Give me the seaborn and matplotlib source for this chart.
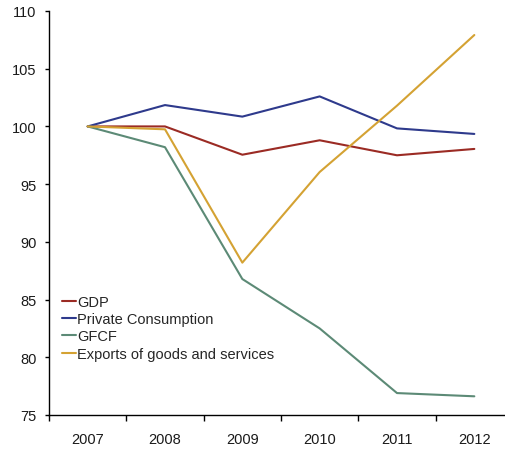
import matplotlib
matplotlib.use("Agg")
import matplotlib.pyplot as plt
import seaborn as sns
import pandas as pd
import numpy as np
from matplotlib.ticker import FixedLocator, NullFormatter, FixedFormatter

years = ["2007", "2008", "2009", "2010", "2011", "2012"]
gdp = [100.0, 100.0, 97.55, 98.8, 97.5, 98.05]
private_consumption = [100.0, 101.85, 100.85, 102.6, 99.83, 99.35]
gfcf = [100.0, 98.2, 86.78, 82.5, 76.9, 76.62]
exports = [100.0, 99.75, 88.2, 96.05, 101.8, 107.92]

series_names = ["GDP", "Private Consumption", "GFCF", "Exports of goods and services"]
series_values = [gdp, private_consumption, gfcf, exports]
colors = ["#9B2B24", "#2E3A8C", "#5C8A76", "#D4A233"]

rows = []
for name, vals in zip(series_names, series_values):
    for i, v in enumerate(vals):
        rows.append({"pos": i, "year": years[i], "value": v, "series": name})
df = pd.DataFrame(rows)

sns.set_style("white")
plt.rcParams["font.family"] = ["Liberation Sans", "DejaVu Sans"]

fig = plt.figure(figsize=(5.05, 4.52), dpi=100)
ax = fig.add_axes([49 / 505, 36 / 452, 464 / 505, 404 / 452])

sns.lineplot(data=df, x="pos", y="value", hue="series", hue_order=series_names,
             palette=colors, linewidth=1.5, ax=ax, sort=False)

ax.set_xlim(-0.5, 5.5)
ax.set_ylim(75, 110)
ax.set_yticks(np.arange(75, 111, 5))
ax.set_xlabel("")
ax.set_ylabel("")

# Year labels centred on categories, tick marks on the boundaries
ax.xaxis.set_major_locator(FixedLocator(np.arange(-0.5, 6.0, 1.0)))
ax.xaxis.set_major_formatter(NullFormatter())
ax.xaxis.set_minor_locator(FixedLocator(np.arange(0, 6)))
ax.xaxis.set_minor_formatter(FixedFormatter(years))
ax.tick_params(axis="x", which="major", direction="out", length=4, width=1, color="black", bottom=True)
ax.tick_params(axis="x", which="minor", length=0, pad=12, labelsize=10.5, labelcolor="#1a1a1a")
ax.tick_params(axis="y", direction="out", length=3, width=1, color="black", pad=6,
               labelsize=10.5, labelcolor="#1a1a1a", left=True)

for side in ["top", "right"]:
    ax.spines[side].set_visible(False)
for side in ["left", "bottom"]:
    ax.spines[side].set_color("black")
    ax.spines[side].set_linewidth(1)

leg = ax.legend(loc="lower left", bbox_to_anchor=(0.015, 0.12), frameon=False,
                fontsize=10.5, handlelength=1.0, handletextpad=0.05,
                labelspacing=0.22, borderaxespad=0)
for line in leg.get_lines():
    line.set_linewidth(1.5)

fig.savefig("out.png", dpi=100)
